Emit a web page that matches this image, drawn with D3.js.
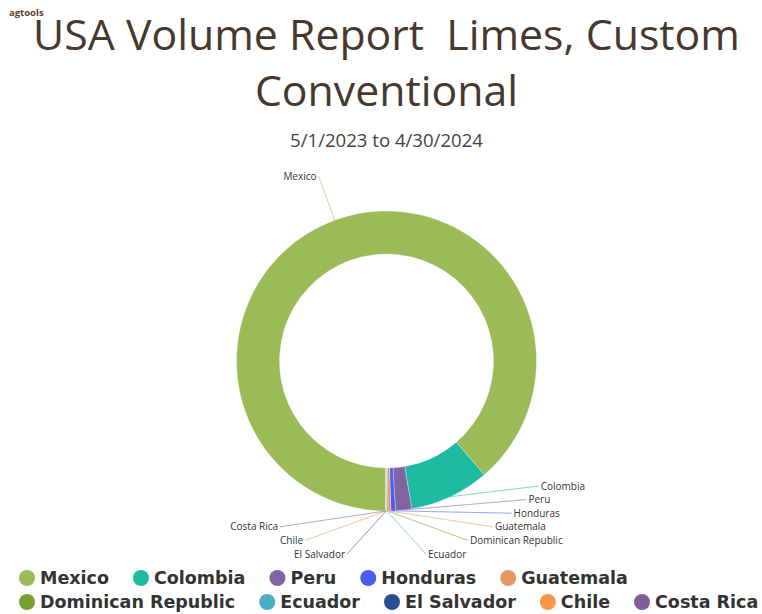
<!DOCTYPE html>
<html>
<head>
<meta charset="utf-8">
<script src="https://cdn.jsdelivr.net/npm/d3@7"></script>
<style>
  html, body { margin: 0; padding: 0; background: #ffffff; }
  svg { display: block; }
</style>
</head>
<body>
<svg id="chart" width="762" height="614"></svg>
<script>
// ---- data ----
const categories = ["Mexico", "Colombia", "Peru", "Honduras", "Guatemala",
  "Dominican Republic", "Ecuador", "El Salvador", "Chile", "Costa Rica"];
const shares = [88.6, 8.6, 1.75, 0.5, 0.3, 0.1, 0.06, 0.04, 0.03, 0.02];
const colors = ["#9bbb59", "#1fbaa2", "#8064a2", "#4a5cf2", "#e59866",
  "#77a033", "#4bacc6", "#2c4d8f", "#f79646", "#7f5f9a"];
const titleLines = ["USA Volume Report  Limes, Custom", "Conventional"];
const subtitle = "5/1/2023 to 4/30/2024";
const logoText = "agtools";

// ---- layout ----
const W = 762, H = 614;
const cx = 386.5, cy = 361, outerR = 150, innerR = 107, labelR = 197;
const labelGap = 13.6, labelMaxY = 554;
const startAngle = Math.PI + 0.006;

const svg = d3.select("#chart");
svg.append("rect").attr("width", W).attr("height", H).attr("fill", "#fff");

// logo
svg.append("text").attr("x", 9).attr("y", 16)
  .attr("font-family", "Open Sans").attr("font-weight", 700).attr("font-size", 9.5)
  .attr("fill", "#5b3d2e").text(logoText);

// title (fit to measured width)
const titleFont = "Open Sans";
const t1 = svg.append("text").attr("x", cx).attr("y", 50).attr("text-anchor", "middle")
  .attr("font-family", titleFont).attr("font-size", 50).attr("fill", "#47382f")
  .style("white-space", "pre").text(titleLines[0]);
const w1 = t1.node().getComputedTextLength();
const titleSize = 50 * 707 / w1;
t1.attr("font-size", titleSize);
svg.append("text").attr("x", cx).attr("y", 106).attr("text-anchor", "middle")
  .attr("font-family", titleFont).attr("font-size", titleSize).attr("fill", "#47382f")
  .text(titleLines[1]);

const st = svg.append("text").attr("x", cx).attr("y", 147).attr("text-anchor", "middle")
  .attr("font-family", titleFont).attr("font-size", 18).attr("fill", "#4a3f3a")
  .text(subtitle);
const ws = st.node().getComputedTextLength();
st.attr("font-size", 18 * 193 / ws);

// pie
const data = categories.map((c, i) => ({ name: c, value: shares[i], color: colors[i] }));
const pie = d3.pie().sort(null).value(d => d.value)
  .startAngle(startAngle).endAngle(startAngle + 2 * Math.PI);
const arcs = pie(data);
const arcGen = d3.arc().innerRadius(innerR).outerRadius(outerR);

const g = svg.append("g").attr("transform", `translate(${cx},${cy})`);
g.selectAll("path.slice").data(arcs).join("path")
  .attr("class", "slice")
  .attr("d", arcGen)
  .attr("fill", d => d.data.color)
  .attr("stroke", "#fff").attr("stroke-width", 0.3);

// labels
const TAU = 2 * Math.PI;
const labels = arcs.map(a => {
  let mid = ((a.startAngle + a.endAngle) / 2) % TAU;
  const side = mid > Math.PI ? "left" : "right";
  return {
    a, mid, side,
    sx: outerR * Math.sin(mid), sy: -outerR * Math.cos(mid),
    natY: -labelR * Math.cos(mid)
  };
});
["left", "right"].forEach(side => {
  const items = labels.filter(l => l.side === side).sort((p, q) => q.natY - p.natY);
  let prev = null;
  items.forEach(l => {
    let y = Math.min(l.natY, labelMaxY - cy);
    if (prev !== null) y = Math.min(y, prev - labelGap);
    l.y = y; prev = y;
  });
});
labels.forEach(l => {
  const dx = Math.sqrt(Math.max(0, labelR * labelR - l.y * l.y));
  l.x = l.side === "right" ? dx : -dx;
});

g.selectAll("line.conn").data(labels).join("line")
  .attr("class", "conn")
  .attr("x1", d => d.sx).attr("y1", d => d.sy)
  .attr("x2", d => d.x).attr("y2", d => d.y)
  .attr("stroke", d => d.a.data.color).attr("stroke-width", 0.8).attr("opacity", 0.7);

g.selectAll("text.lbl").data(labels).join("text")
  .attr("class", "lbl")
  .attr("x", d => d.side === "right" ? d.x + 2 : d.x - 2)
  .attr("y", d => d.y).attr("dy", "0.35em")
  .attr("text-anchor", d => d.side === "right" ? "start" : "end")
  .attr("font-family", "Open Sans").attr("font-size", 10).attr("fill", "#333")
  .text(d => d.a.data.name);

// legend
const legendRows = [data.slice(0, 5), data.slice(5)];
const legendY = [578, 602];
const legendX0 = 19, markerR = 8, textOff = 21, itemDist = 24;
legendRows.forEach((row, ri) => {
  let x = legendX0;
  row.forEach(d => {
    const item = svg.append("g");
    item.append("circle").attr("cx", x + markerR).attr("cy", legendY[ri]).attr("r", markerR)
      .attr("fill", d.color);
    const t = item.append("text").attr("x", x + textOff).attr("y", legendY[ri]).attr("dy", "0.36em")
      .attr("font-family", "DejaVu Sans").attr("font-weight", 700).attr("font-size", 17.5)
      .attr("fill", "#333").text(d.name);
    x += textOff + t.node().getComputedTextLength() + itemDist;
  });
});
</script>
</body>
</html>
